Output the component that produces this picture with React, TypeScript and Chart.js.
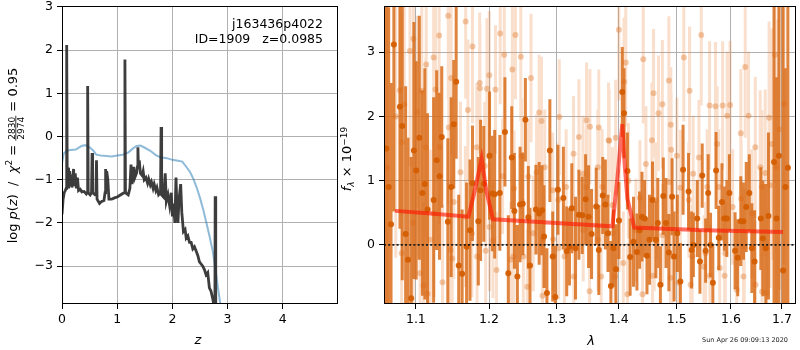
import React, { useEffect, useRef } from "react";
import { Chart, registerables } from "chart.js";

Chart.register(...registerables);

// ---------------- Left panel: p(z) ----------------
const zTicks = [0, 1, 2, 3, 4];
const pTicks = [-3, -2, -1, 0, 1, 2, 3];

const pzZ = [
  0, 0.02, 0.04, 0.06, 0.075, 0.085, 0.095, 0.11, 0.12, 0.14,
  0.15, 0.17, 0.18, 0.21, 0.22, 0.24, 0.26, 0.28, 0.30, 0.33,
  0.36, 0.40, 0.44, 0.455, 0.465, 0.475, 0.51, 0.535, 0.545, 0.555,
  0.60, 0.615, 0.625, 0.635, 0.68, 0.72, 0.76, 0.78, 0.79, 0.80,
  0.81, 0.83, 0.85, 0.90, 0.95, 1.00, 1.05, 1.10, 1.13, 1.14,
  1.15, 1.20, 1.23, 1.25, 1.27, 1.30, 1.32, 1.35, 1.365, 1.375,
  1.385, 1.40, 1.42, 1.45, 1.47, 1.49, 1.52, 1.55, 1.57, 1.60,
  1.62, 1.65, 1.67, 1.70, 1.72, 1.75,
  1.785, 1.795, 1.805, 1.84, 1.87, 1.89, 1.92, 1.95, 1.98, 2.00,
  2.02, 2.045, 2.065, 2.085, 2.10, 2.12, 2.15, 2.17, 2.20, 2.23,
  2.25, 2.28, 2.31, 2.34, 2.37, 2.40, 2.43, 2.46, 2.49, 2.52,
  2.55, 2.58, 2.61, 2.64, 2.67, 2.70, 2.73, 2.755, 2.77, 2.775,
  2.785, 2.80,
];
const pzLogP = [
  -1.80, -1.45, -1.30, -1.25, -1.20, 2.12, -1.15, -0.72, -1.20, -0.80,
  -1.15, -0.88, -1.18, -0.75, -1.15, -0.85, -1.20, -0.95, -1.25, -1.22,
  -1.28, -1.27, -1.33, -1.30, 1.17, -1.30, -1.35, -1.30, -0.38, -1.30,
  -1.35, -1.32, -0.55, -1.45, -1.55, -1.50, -1.48, -1.30, -0.75, -1.10,
  -0.80, -1.00, -1.45, -1.45, -1.42, -1.40, -1.36, -1.32, -1.30, 1.78,
  -1.30, -1.35, -1.20, -0.65, -1.10, -0.70, -0.95, -0.85, -0.70, -0.25,
  -0.75, -0.55, -0.85, -0.90, -0.80, -1.00, -0.95, -1.08, -0.98, -1.12,
  -1.05, -1.20, -1.10, -1.25, -1.18, -1.35,
  -1.30, 0.22, -1.35, -1.40, -0.85, -1.50, -1.35, -1.60, -1.30, -1.85,
  -1.55, -2.00, -0.95, -1.75, -2.00, -1.45, -1.10, -1.75, -2.20, -2.15,
  -2.35, -2.30, -2.45, -2.45, -2.60, -2.55, -2.65, -2.75, -2.90, -2.95,
  -3.00, -3.08, -3.20, -3.15, -3.50, -3.58, -3.75, -3.92, -3.95, -1.38,
  -3.95, -4.50,
];

const chiZ = [
  0, 0.03, 0.08, 0.15, 0.25, 0.35, 0.42, 0.50, 0.57, 0.62,
  0.70, 0.80, 0.90, 1.00, 1.10, 1.20, 1.28, 1.35, 1.42, 1.50,
  1.60, 1.70, 1.78, 1.90, 2.00, 2.10, 2.18, 2.25, 2.32, 2.38,
  2.44, 2.50, 2.56, 2.62, 2.68, 2.73, 2.78, 2.82, 2.86, 2.90,
];
const chiLogP = [
  -0.62, -0.40, -0.33, -0.31, -0.30, -0.22, -0.20, -0.25, -0.33, -0.42,
  -0.44, -0.45, -0.46, -0.44, -0.42, -0.37, -0.28, -0.22, -0.21, -0.26,
  -0.33, -0.43, -0.48, -0.50, -0.54, -0.56, -0.58, -0.70, -0.82, -0.98,
  -1.18, -1.42, -1.70, -2.02, -2.35, -2.65, -3.05, -3.45, -3.80, -4.20,
];

// ---------------- Right panel: spectrum ----------------
const lamTicks = [1.1, 1.2, 1.3, 1.4, 1.5, 1.6, 1.7];
const fTicks = [0, 1, 2, 3];

const lamDark = [
  1.062, 1.065, 1.068, 1.0716, 1.0794, 1.0823, 1.0867, 1.0897, 1.0939, 1.0974,
  1.1004, 1.1045, 1.1086, 1.1118, 1.1154, 1.1235, 1.1276, 1.1313, 1.1344, 1.1426,
  1.1472, 1.1507, 1.1540, 1.1575, 1.1622, 1.1684, 1.1731, 1.1766, 1.1848, 1.1880,
  1.1925, 1.2007, 1.2047, 1.2081, 1.2155, 1.2229, 1.2278, 1.2328, 1.2367, 1.2411,
  1.2451, 1.2491, 1.2530, 1.2574, 1.2599, 1.2688, 1.2737, 1.2781, 1.2811, 1.2855,
  1.2900, 1.2944, 1.2984, 1.3024, 1.3109, 1.3161, 1.3204, 1.3241, 1.3300, 1.3353,
  1.3407, 1.3460, 1.3508, 1.3556, 1.3631, 1.3673, 1.3737, 1.3780, 1.3823, 1.3871,
  1.3913, 1.3955, 1.4003, 1.4060, 1.4089, 1.4146, 1.4192, 1.4249, 1.4307, 1.4352,
  1.4393, 1.4437, 1.4479, 1.4523, 1.4575, 1.4633, 1.4667, 1.4712, 1.4763, 1.4810,
  1.4861, 1.4918, 1.4953, 1.5011, 1.5066, 1.5114, 1.5213, 1.5268, 1.5300, 1.5371,
  1.5420, 1.5462, 1.5525, 1.5572, 1.5616, 1.5659, 1.5719, 1.5769, 1.5829, 1.5873,
  1.5921, 1.5970, 1.6078, 1.6129, 1.6188, 1.6240, 1.6293, 1.6352, 1.6402, 1.6455,
  1.6578, 1.6617, 1.6676, 1.6729, 1.6840, 1.6891, 1.6938, 1.7022, 1.7070, 1.7120,
];
const fluxDark = [
  1.50, 0.90, 0.32, 3.12, 2.15, 1.85, 0.17, -0.23, -0.83, 1.47,
  1.16, 1.67, 0.81, 0.95, 0.55, 0.70, 1.32, 1.07, 1.68, 0.36,
  0.90, 1.88, 2.54, -0.32, -0.45, -0.03, 0.23, 0.96, 0.37, 0.85,
  0.95, 1.39, 0.80, 0.79, 0.81, 1.76, -0.44, 1.36, 0.53, -0.49,
  0.63, 0.64, 1.95, 0.43, -0.32, 0.55, 0.49, 0.54, 0.13, -0.75,
  1.47, -0.18, -0.81, 0.86, 0.73, -0.10, -0.03, 0.57, -0.05, 0.47,
  0.46, 0.71, 0.44, 0.17, 0.60, -0.08, 0.77, 0.63, 0.18, -0.64,
  -0.05, -0.38, 0.38, 2.38, 2.05, 1.15, -0.19, 0.05, -0.11, 0.23,
  0.44, 0.41, -0.17, 0.08, 0.70, 0.08, 0.34, -0.62, 0.76, 0.34,
  -0.12, 0.75, -0.18, 0.18, -0.57, 1.17, 0.83, -0.08, 0.00, 0.41,
  -0.26, 1.08, -0.09, 0.81, 0.00, -0.59, 1.16, 0.11, 0.67, 0.41,
  0.41, 0.81, -0.09, -0.20, 0.37, 0.37, 0.59, 0.81, -0.05, -0.26,
  0.41, 0.10, -0.05, 0.45, 1.29, 0.41, 1.39, -0.40, 0.90, 1.20,
];
const errDark = [
  3.0, 2.8, 2.2, 2.6, 1.9, 2.4, 2.3, 1.9, 2.2, 2.0,
  1.7, 1.9, 1.6, 1.8, 1.5, 1.6, 1.4, 1.3, 1.1, 1.3,
  1.4, 1.0, 1.2, 1.1, 1.0, 1.0, 1.1, 0.9, 1.0, 1.1,
  0.9, 1.0, 0.9, 1.0, 0.9, 0.85, 0.9, 0.8, 0.9, 0.8,
  0.9, 0.8, 0.65, 0.8, 0.9, 0.7, 0.8, 0.7, 0.8, 0.7,
  0.8, 0.7, 0.8, 0.7, 0.8, 0.7, 0.6, 0.7, 0.8, 0.7,
  0.6, 0.7, 0.8, 0.7, 0.6, 0.7, 0.6, 0.7, 0.6, 0.7,
  0.6, 0.7, 0.6, 0.7, 0.7, 0.6, 0.6, 0.7, 0.6, 0.6,
  0.7, 0.6, 0.6, 0.7, 0.6, 0.6, 0.7, 0.6, 0.6, 0.7,
  0.6, 0.6, 0.7, 0.6, 0.6, 0.7, 0.6, 0.6, 0.5, 0.6,
  0.5, 0.5, 0.5, 0.6, 0.5, 0.6, 0.6, 0.5, 0.6, 0.5,
  0.6, 0.6, 0.6, 0.6, 0.7, 0.6, 0.7, 0.6, 0.7, 0.8,
  0.8, 0.9, 1.0, 1.3, 2.5, 2.2, 2.6, 4.2, 1.85, 3.0,
];

const lamLight = [
  1.0630, 1.0740, 1.0794, 1.0815, 1.0823, 1.0849, 1.0923, 1.0965, 1.0968, 1.1018,
  1.1054, 1.1078, 1.1099, 1.1132, 1.1136, 1.1154, 1.1190, 1.1235, 1.1240, 1.1259,
  1.1309, 1.1313, 1.1354, 1.1431, 1.1439, 1.1463, 1.1472, 1.1486, 1.1507, 1.1599,
  1.1667, 1.1671, 1.1703, 1.1758, 1.1766, 1.1826, 1.1830, 1.1867, 1.1871, 1.1939,
  1.1952, 1.1970, 1.2003, 1.2007, 1.2056, 1.2092, 1.2107, 1.2160, 1.2195, 1.2219,
  1.2314, 1.2337, 1.2352, 1.2362, 1.2382, 1.2462, 1.2476, 1.2500, 1.2559, 1.2574,
  1.2614, 1.2648, 1.2698, 1.2737, 1.2772, 1.2787, 1.2796, 1.2821, 1.2944, 1.2950,
  1.3029, 1.3035, 1.3045, 1.3125, 1.3152, 1.3268, 1.3273, 1.3353, 1.3417, 1.3422,
  1.3471, 1.3476, 1.3524, 1.3529, 1.3657, 1.3662, 1.3673, 1.3711, 1.3727, 1.3832,
  1.3843, 1.3896, 1.3900, 1.3939, 1.3950, 1.4003, 1.4008, 1.4077, 1.4089, 1.4118,
  1.4146, 1.4163, 1.4290, 1.4358, 1.4403, 1.4415, 1.4461, 1.4564, 1.4575, 1.4592,
  1.4604, 1.4633, 1.4678, 1.4746, 1.4751, 1.4861, 1.4866, 1.4890, 1.4895, 1.4901,
  1.4918, 1.5004, 1.5035, 1.5066, 1.5127, 1.5218, 1.5231, 1.5250, 1.5279, 1.5297,
  1.5402, 1.5444, 1.5494, 1.5525, 1.5554, 1.5598, 1.5604, 1.5708, 1.5738, 1.5769,
  1.5787, 1.5842, 1.5879, 1.5892, 1.5928, 1.5983, 1.6031, 1.6109, 1.6188, 1.6195,
  1.6240, 1.6254, 1.6273, 1.6338, 1.6402, 1.6469, 1.6474, 1.6566, 1.6598, 1.6603,
  1.6664, 1.6695, 1.6742, 1.6762, 1.6793, 1.6859, 1.6891, 1.6950, 1.7040,
];
const fluxLight = [
  1.20, 2.00, 2.41, -0.13, 1.60, 2.19, 3.02, 0.34, 3.21, 2.07,
  -0.44, 2.40, -0.63, 1.52, 2.81, -0.76, 0.08, 2.92, 0.49, 2.42,
  3.26, 1.52, -0.58, 3.57, 1.83, -0.08, 2.60, -0.21, 0.67, 1.13,
  0.44, 3.48, 2.10, 0.18, 3.09, 1.52, -0.18, 2.52, 2.44, 1.23,
  -0.09, 2.43, 2.64, 0.28, 0.07, 2.42, -0.39, 3.29, 1.07, 2.96,
  -0.23, 2.73, -0.18, 0.88, 3.27, 2.93, 1.38, -0.18, -0.65, 1.06,
  2.60, 0.18, 1.13, 2.06, 1.93, -0.79, 0.09, 1.21, 0.85, 0.09,
  0.70, -0.05, 1.99, -0.18, 0.90, 1.42, -0.49, 1.68, 1.11, 0.23,
  0.90, 1.94, -0.72, 1.84, 1.21, 0.08, 1.83, -0.49, 0.90, 1.63,
  1.62, 0.62, 0.18, -0.49, 1.67, 3.35, 0.38, -0.28, 2.54, 2.84,
  -0.77, 1.00, 0.23, 0.73, -0.77, 2.89, 1.26, 1.63, -0.48, 2.36,
  0.08, 0.70, 2.05, 2.19, 0.15, 2.56, 0.98, -0.51, 1.87, 1.48,
  -0.18, 1.39, -0.59, 0.89, 2.92, 0.70, 2.40, -0.62, -0.18, 1.11,
  1.36, 3.27, -0.34, -0.13, 0.90, 2.17, -0.48, 2.16, 1.57, 0.90,
  -0.36, 2.17, -0.48, -0.13, 2.01, 2.18, 0.59, -0.70, 1.74, 0.72,
  -0.49, -0.03, 2.77, 2.01, 0.49, 1.52, -0.62, 1.21, 0.90, -0.73,
  1.12, -0.75, 1.98, 0.93, 1.57, 2.96, 1.21, 1.80, 2.20,
];
const errLight = [
  2.5, 2.2, 1.9, 1.8, 2.0, 1.7, 1.8, 1.6, 1.7, 1.5,
  1.4, 1.5, 1.3, 1.4, 1.5, 1.3, 1.4, 1.4, 1.3, 1.3,
  1.4, 1.2, 1.2, 1.3, 1.2, 1.1, 1.2, 1.1, 1.2, 1.1,
  1.1, 1.2, 1.1, 1.0, 1.2, 1.0, 1.0, 1.1, 1.0, 1.0,
  1.0, 1.1, 1.0, 1.0, 0.9, 1.0, 0.9, 1.1, 0.9, 1.0,
  0.9, 1.0, 0.9, 0.9, 1.0, 1.0, 0.9, 0.9, 0.9, 0.9,
  1.0, 0.9, 0.9, 0.9, 1.0, 0.9, 0.9, 0.9, 0.9, 0.8,
  0.9, 0.8, 0.9, 0.8, 0.9, 0.9, 0.8, 0.9, 0.9, 0.8,
  0.9, 0.9, 0.8, 0.9, 0.9, 0.8, 0.9, 0.8, 0.9, 0.9,
  0.8, 0.9, 0.8, 0.8, 0.9, 1.1, 0.8, 0.8, 1.0, 1.0,
  0.8, 0.9, 0.8, 0.9, 0.8, 1.0, 0.9, 0.9, 0.8, 1.0,
  0.8, 0.9, 0.9, 1.0, 0.8, 1.0, 0.9, 0.8, 0.9, 0.9,
  0.8, 0.9, 0.8, 0.9, 1.0, 0.9, 1.0, 0.8, 0.8, 0.9,
  0.9, 1.1, 0.8, 0.8, 0.9, 1.0, 0.8, 1.0, 0.9, 0.9,
  0.8, 1.0, 0.8, 0.8, 1.0, 1.0, 0.9, 0.9, 1.0, 0.9,
  0.9, 0.9, 1.1, 1.0, 1.0, 1.1, 1.0, 1.2, 1.2, 1.1,
  1.3, 1.3, 1.5, 1.6, 1.8, 2.0, 2.3, 2.5, 2.5,
];

const modelLam = [1.073, 1.120, 1.171, 1.180, 1.1894, 1.196, 1.2056, 1.300, 1.3896, 1.398, 1.406, 1.410, 1.4146, 1.426, 1.550, 1.702];
const modelFlux = [0.53, 0.49, 0.44, 0.85, 1.34, 0.85, 0.40, 0.34, 0.29, 1.05, 1.88, 1.25, 0.72, 0.27, 0.23, 0.20];

// ---------------- helpers ----------------
const FONT = '"DejaVu Sans", "Liberation Sans", sans-serif';
const GRID = "#b0b0b0";
const TICK_SIZE = 12.5;

const fmt = (v: number, d = 0) => {
  const s = Math.abs(v).toFixed(d);
  return v < 0 ? "\u2212" + s : s;
};

const errSegments = (lam: number[], f: number[], e: number[]) =>
  lam.flatMap((x, i) => [
    { x, y: f[i] - e[i] },
    { x, y: f[i] + e[i] },
    { x, y: null },
  ]);

const framePlugin = {
  id: "frame",
  afterDraw(chart: any) {
    const { ctx, chartArea: a } = chart;
    ctx.save();
    ctx.strokeStyle = "#000";
    ctx.lineWidth = 1;
    ctx.strokeRect(a.left + 0.5, a.top + 0.5, a.right - a.left - 1, a.bottom - a.top - 1);
    ctx.restore();
  },
};

function drawRotated(ctx: any, baseX: number, centerY: number, pieces: any[]) {
  ctx.save();
  ctx.translate(baseX, centerY);
  ctx.rotate(-Math.PI / 2);
  ctx.fillStyle = "#000";
  ctx.strokeStyle = "#000";
  ctx.textBaseline = "alphabetic";
  ctx.textAlign = "left";
  const widths = pieces.map((p) => {
    ctx.font = p.f;
    if (p.t !== undefined) return ctx.measureText(p.t).width;
    return Math.max(ctx.measureText(p.num).width, ctx.measureText(p.den).width) + 2;
  });
  const total = widths.reduce((a: number, b: number) => a + b, 0);
  let x = -total / 2;
  pieces.forEach((p, i) => {
    ctx.font = p.f;
    if (p.t !== undefined) {
      ctx.fillText(p.t, x, p.dy || 0);
    } else {
      const w = widths[i];
      const wn = ctx.measureText(p.num).width;
      const wd = ctx.measureText(p.den).width;
      ctx.fillText(p.num, x + (w - wn) / 2, p.nd);
      ctx.fillText(p.den, x + (w - wd) / 2, p.dd);
      ctx.lineWidth = 0.8;
      ctx.beginPath();
      ctx.moveTo(x, p.bd);
      ctx.lineTo(x + w, p.bd);
      ctx.stroke();
    }
    x += widths[i];
  });
  ctx.restore();
}

const R = (s: number) => `${s}px ${FONT}`;
const I = (s: number) => `italic ${s}px ${FONT}`;

const leftTextPlugin = {
  id: "leftText",
  afterDraw(chart: any) {
    const ctx = chart.ctx;
    ctx.save();
    ctx.fillStyle = "#000";
    ctx.font = R(12.5);
    ctx.textAlign = "right";
    ctx.textBaseline = "alphabetic";
    ctx.fillText("j163436p4022", 323, 28);
    ctx.fillText("ID=1909   z=0.0985", 323, 43);
    ctx.textAlign = "center";
    ctx.font = I(13);
    ctx.fillText("z", 198, 344);
    ctx.restore();
    drawRotated(ctx, 17, 155.5, [
      { t: "log ", f: R(13) },
      { t: "p", f: I(13) },
      { t: "(", f: R(13) },
      { t: "z", f: I(13) },
      { t: ")  /  ", f: R(13) },
      { t: "\u03c7", f: I(13) },
      { t: "2", f: R(9), dy: -5 },
      { t: " = ", f: R(13) },
      { num: "2830", den: "2974", f: R(9), nd: -2.5, dd: 6.5, bd: -1.2 },
      { t: " = 0.95", f: R(13) },
    ]);
  },
};

const RIGHT_OFF = 336;

const rightTextPlugin = {
  id: "rightText",
  afterDraw(chart: any) {
    const ctx = chart.ctx;
    ctx.save();
    ctx.fillStyle = "#000";
    ctx.textAlign = "center";
    ctx.textBaseline = "alphabetic";
    ctx.font = I(13);
    ctx.fillText("\u03bb", 591 - RIGHT_OFF, 345);
    ctx.font = R(6.5);
    ctx.textAlign = "right";
    ctx.fillStyle = "#222";
    ctx.fillText("Sun Apr 26 09:09:13 2020", 788 - RIGHT_OFF, 342);
    ctx.restore();
    drawRotated(ctx, 351 - RIGHT_OFF, 159, [
      { t: "f", f: I(13) },
      { t: "\u03bb", f: I(9), dy: 2.5 },
      { t: " \u00d7 10", f: R(13) },
      { t: "\u221219", f: R(9), dy: -4.5 },
    ]);
  },
};

const tickFont = { family: FONT, size: TICK_SIZE };

function axisX(extra: any, ticks: number[], digits: number, height: number) {
  return {
    ...extra,
    z: 1,
    border: { display: false },
    grid: { color: GRID, lineWidth: 1, tickColor: "#000", tickLength: 5, drawTicks: true },
    ticks: {
      font: tickFont,
      color: "#000",
      padding: 3,
      maxRotation: 0,
      autoSkip: false,
      callback: (v: any) => fmt(Number(v), digits),
    },
    afterBuildTicks: (s: any) => {
      s.ticks = ticks.map((v) => ({ value: v }));
    },
    afterFit: (s: any) => {
      s.height = height;
      s.paddingLeft = 0;
      s.paddingRight = 0;
    },
  };
}

function axisY(extra: any, ticks: number[], width: number) {
  return {
    ...extra,
    z: 1,
    border: { display: false },
    grid: { color: GRID, lineWidth: 1, tickColor: "#000", tickLength: 5, drawTicks: true },
    ticks: {
      font: tickFont,
      color: "#000",
      padding: 4,
      autoSkip: false,
      callback: (v: any) => fmt(Number(v), 0),
    },
    afterBuildTicks: (s: any) => {
      s.ticks = ticks.map((v) => ({ value: v }));
    },
    afterFit: (s: any) => {
      s.width = width;
      s.paddingTop = 0;
      s.paddingBottom = 0;
    },
  };
}

export default function App() {
  const leftRef = useRef<HTMLCanvasElement>(null);
  const rightRef = useRef<HTMLCanvasElement>(null);

  useEffect(() => {
    const left = new Chart(leftRef.current as HTMLCanvasElement, {
      type: "line",
      data: {
        datasets: [
          {
            data: pzZ.map((x, i) => ({ x, y: pzLogP[i] })),
            borderColor: "rgba(45,45,45,0.92)",
            borderWidth: 2.8,
            pointRadius: 0,
            tension: 0,
            order: 0,
            clip: 0,
          },
          {
            data: chiZ.map((x, i) => ({ x, y: chiLogP[i] })),
            borderColor: "rgba(31,119,180,0.5)",
            borderWidth: 2,
            pointRadius: 0,
            tension: 0,
            order: 1,
            clip: 0,
          },
        ] as any,
      },
      options: {
        animation: false,
        responsive: false,
        devicePixelRatio: 1,
        events: [],
        layout: { padding: { left: 0, right: 2, top: 6, bottom: 0 } },
        plugins: { legend: { display: false }, tooltip: { enabled: false } },
        scales: {
          x: axisX({ type: "linear", min: 0, max: 5 }, zTicks, 0, 46),
          y: axisY({ type: "linear", min: -3.875, max: 3.02 }, pTicks, 62),
        } as any,
      },
      plugins: [framePlugin, leftTextPlugin],
    } as any);

    const right = new Chart(rightRef.current as HTMLCanvasElement, {
      type: "line",
      data: {
        datasets: [
          {
            data: modelLam.map((x, i) => ({ x, y: modelFlux[i] })),
            borderColor: "rgba(255,20,0,0.62)",
            borderWidth: 4,
            pointRadius: 0,
            tension: 0,
            order: 0,
            clip: 0,
          },
          {
            data: [
              { x: 1.0591, y: 0 },
              { x: 1.7286, y: 0 },
            ],
            borderColor: "#1a1a1a",
            borderWidth: 1.6,
            borderDash: [2, 2.2],
            pointRadius: 0,
            order: 1,
            clip: 0,
          },
          {
            data: lamDark.map((x, i) => ({ x, y: fluxDark[i] })),
            showLine: false,
            pointRadius: 3,
            pointBorderWidth: 0,
            pointBackgroundColor: "rgba(212,94,2,0.95)",
            order: 2,
            clip: 0,
          },
          {
            data: errSegments(lamDark, fluxDark, errDark),
            borderColor: "rgba(216,104,18,0.82)",
            borderWidth: 3,
            pointRadius: 0,
            spanGaps: false,
            order: 3,
            clip: 0,
          },
          {
            data: lamLight.map((x, i) => ({ x, y: fluxLight[i] })),
            showLine: false,
            pointRadius: 3,
            pointBorderWidth: 0,
            pointBackgroundColor: "rgba(226,128,56,0.42)",
            order: 4,
            clip: 0,
          },
          {
            data: errSegments(lamLight, fluxLight, errLight),
            borderColor: "rgba(232,140,72,0.28)",
            borderWidth: 3,
            pointRadius: 0,
            spanGaps: false,
            order: 5,
            clip: 0,
          },
        ] as any,
      },
      options: {
        animation: false,
        responsive: false,
        devicePixelRatio: 1,
        events: [],
        layout: { padding: { left: 0, right: 2, top: 6, bottom: 0 } },
        plugins: { legend: { display: false }, tooltip: { enabled: false } },
        scales: {
          x: axisX({ type: "logarithmic", min: 1.0591, max: 1.7286 }, lamTicks, 1, 46),
          y: axisY({ type: "linear", min: -0.92, max: 3.72 }, fTicks, 48),
        } as any,
      },
      plugins: [framePlugin, rightTextPlugin],
    } as any);

    return () => {
      left.destroy();
      right.destroy();
    };
  }, []);

  return (
    <div
      style={{
        position: "fixed",
        left: 0,
        top: 0,
        width: 800,
        height: 350,
        background: "#fff",
        overflow: "hidden",
      }}
    >
      <canvas
        ref={leftRef}
        width={340}
        height={350}
        style={{ position: "absolute", left: 0, top: 0, width: 340, height: 350 }}
      />
      <canvas
        ref={rightRef}
        width={464}
        height={350}
        style={{ position: "absolute", left: RIGHT_OFF, top: 0, width: 464, height: 350 }}
      />
    </div>
  );
}
